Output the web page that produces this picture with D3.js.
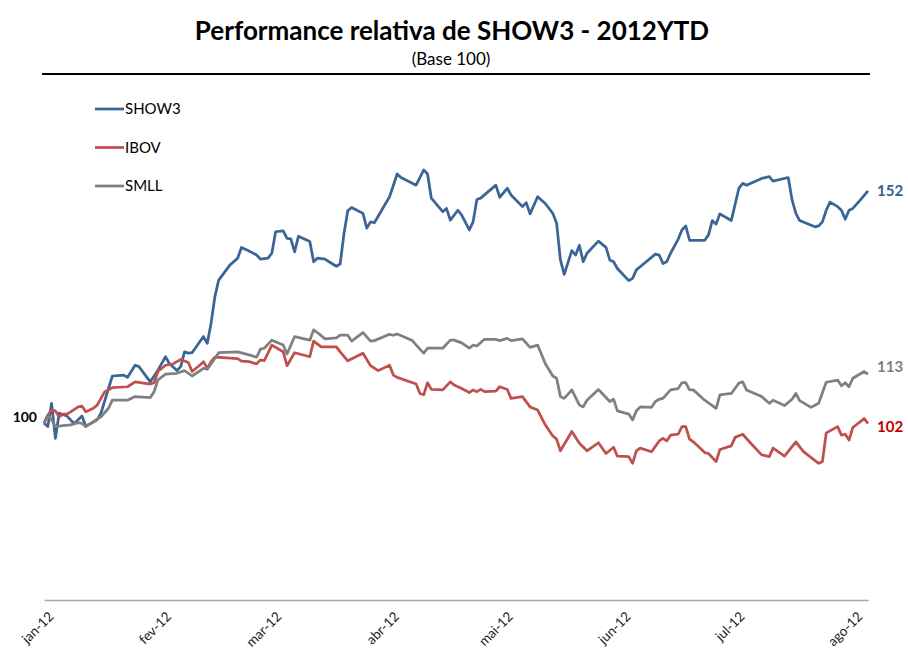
<!DOCTYPE html>
<html>
<head>
<meta charset="utf-8">
<script src="https://cdn.jsdelivr.net/npm/d3@7"></script>
<style>
body { margin: 0; background: #fff; }
text { font-family: Lato, "Open Sans", sans-serif; }
</style>
</head>
<body>
<svg id="chart" width="908" height="653"></svg>
<script>
const titleText = "Performance relativa de SHOW3 - 2012YTD";
const subtitleText = "(Base 100)";
const monthNames = ["jan", "fev", "mar", "abr", "mai", "jun", "jul", "ago"];
const seriesNames = ["SHOW3", "IBOV", "SMLL"];
const endLabels = ["152", "102", "113"];
const startLabel = "100";

const showDates = ["2011-12-30","2011-12-31","2012-01-01","2012-01-02","2012-01-03","2012-01-05","2012-01-06","2012-01-07","2012-01-09","2012-01-10","2012-01-13","2012-01-14","2012-01-17","2012-01-20","2012-01-21","2012-01-23","2012-01-24","2012-01-27","2012-01-29","2012-01-31","2012-02-01","2012-02-03","2012-02-04","2012-02-05","2012-02-06","2012-02-07","2012-02-10","2012-02-11","2012-02-12","2012-02-13","2012-02-14","2012-02-17","2012-02-19","2012-02-20","2012-02-22","2012-02-24","2012-02-25","2012-02-27","2012-02-28","2012-02-29","2012-03-02","2012-03-03","2012-03-04","2012-03-05","2012-03-06","2012-03-09","2012-03-10","2012-03-11","2012-03-13","2012-03-15","2012-03-16","2012-03-17","2012-03-18","2012-03-19","2012-03-20","2012-03-23","2012-03-24","2012-03-25","2012-03-26","2012-03-30","2012-04-01","2012-04-02","2012-04-06","2012-04-08","2012-04-09","2012-04-10","2012-04-13","2012-04-14","2012-04-15","2012-04-17","2012-04-18","2012-04-20","2012-04-21","2012-04-22","2012-04-23","2012-04-27","2012-04-28","2012-04-30","2012-05-01","2012-05-04","2012-05-05","2012-05-06","2012-05-08","2012-05-10","2012-05-12","2012-05-13","2012-05-14","2012-05-15","2012-05-17","2012-05-18","2012-05-19","2012-05-20","2012-05-21","2012-05-24","2012-05-26","2012-05-27","2012-05-28","2012-05-29","2012-06-01","2012-06-02","2012-06-03","2012-06-04","2012-06-08","2012-06-09","2012-06-10","2012-06-11","2012-06-12","2012-06-14","2012-06-15","2012-06-16","2012-06-17","2012-06-21","2012-06-22","2012-06-23","2012-06-24","2012-06-25","2012-06-28","2012-06-30","2012-07-01","2012-07-02","2012-07-06","2012-07-08","2012-07-09","2012-07-13","2012-07-14","2012-07-15","2012-07-16","2012-07-20","2012-07-21","2012-07-22","2012-07-23","2012-07-24","2012-07-26","2012-07-27","2012-07-28","2012-07-29","2012-07-30","2012-08-01","2012-08-03"];
const showValues = [100.0,99.2,104.4,96.6,102.2,101.6,100.7,99.9,101.6,99.3,100.7,102.2,110.5,110.7,110.2,112.9,112.6,109.2,111.8,114.8,113.3,111.7,112.6,115.9,115.6,115.7,119.3,117.8,122.3,128.2,131.9,135.3,136.8,139.2,138.4,137.5,136.6,136.8,137.9,142.7,142.9,141.2,141.1,138.2,141.7,140.5,136.0,136.8,136.6,135.5,135.0,135.5,142.3,147.4,148.1,146.8,143.5,144.9,144.7,150.5,155.6,154.8,153.1,156.5,155.6,150.2,147.2,147.9,145.3,147.5,146.4,143.1,144.9,149.9,150.2,153.1,150.4,152.4,150.9,148.3,149.2,146.7,150.5,149.0,146.8,144.6,136.4,133.2,138.5,137.5,139.7,136.0,137.9,140.6,139.2,136.4,136.0,134.5,131.8,132.3,134.2,134.9,137.7,137.5,135.6,136.0,137.9,141.0,143.1,144.0,140.8,140.8,142.0,145.2,144.4,146.7,145.2,152.4,153.5,153.1,154.6,155.0,154.0,154.8,149.8,146.8,145.2,143.8,144.0,144.9,147.5,149.3,148.3,147.5,145.5,147.5,147.9,149.8,151.8];

const ibovDates = ["2011-12-30","2011-12-31","2012-01-01","2012-01-02","2012-01-03","2012-01-04","2012-01-05","2012-01-06","2012-01-08","2012-01-09","2012-01-10","2012-01-12","2012-01-13","2012-01-15","2012-01-16","2012-01-17","2012-01-21","2012-01-23","2012-01-27","2012-01-28","2012-01-29","2012-01-31","2012-02-02","2012-02-03","2012-02-04","2012-02-06","2012-02-07","2012-02-09","2012-02-10","2012-02-11","2012-02-12","2012-02-13","2012-02-19","2012-02-20","2012-02-22","2012-02-24","2012-02-25","2012-02-26","2012-02-28","2012-03-02","2012-03-03","2012-03-05","2012-03-09","2012-03-10","2012-03-12","2012-03-16","2012-03-17","2012-03-19","2012-03-23","2012-03-25","2012-03-27","2012-03-30","2012-03-31","2012-04-01","2012-04-06","2012-04-07","2012-04-08","2012-04-09","2012-04-10","2012-04-13","2012-04-15","2012-04-16","2012-04-18","2012-04-20","2012-04-21","2012-04-22","2012-04-23","2012-04-24","2012-04-27","2012-04-28","2012-04-30","2012-05-01","2012-05-04","2012-05-06","2012-05-08","2012-05-10","2012-05-12","2012-05-13","2012-05-14","2012-05-17","2012-05-19","2012-05-21","2012-05-24","2012-05-26","2012-05-28","2012-05-29","2012-06-01","2012-06-02","2012-06-03","2012-06-04","2012-06-07","2012-06-09","2012-06-10","2012-06-11","2012-06-12","2012-06-14","2012-06-15","2012-06-16","2012-06-17","2012-06-18","2012-06-21","2012-06-22","2012-06-24","2012-06-25","2012-06-28","2012-06-29","2012-07-01","2012-07-03","2012-07-06","2012-07-08","2012-07-09","2012-07-12","2012-07-15","2012-07-17","2012-07-21","2012-07-22","2012-07-23","2012-07-26","2012-07-27","2012-07-28","2012-07-29","2012-07-30","2012-08-02","2012-08-03"];
const ibovValues = [100.0,101.8,102.9,102.7,101.4,102.0,102.0,102.5,103.6,103.8,102.5,103.3,104.0,107.0,107.4,107.9,108.1,109.2,108.7,109.0,111.5,112.9,113.2,113.7,114.2,113.5,111.5,112.9,113.7,112.2,113.7,114.7,114.4,113.8,113.7,113.2,114.1,113.9,117.4,115.9,112.8,115.7,114.8,118.3,117.0,117.0,115.9,113.9,115.6,112.8,111.7,112.9,110.7,110.2,108.7,106.6,106.3,109.0,107.5,107.4,109.2,108.5,107.7,106.8,107.4,107.0,107.5,107.0,107.1,108.1,107.5,105.5,105.9,103.6,102.9,99.6,97.1,96.4,93.8,98.1,95.5,93.8,95.6,93.2,94.6,92.6,92.5,91.0,93.8,94.4,93.6,96.0,96.6,96.0,97.3,97.5,99.2,99.2,96.4,95.8,93.4,93.2,91.4,94.1,94.9,96.8,97.5,95.6,92.9,92.5,94.4,92.6,95.8,93.6,91.0,91.4,97.8,99.2,97.3,97.5,96.2,99.0,101.0,99.9];

const smllDates = ["2011-12-30","2011-12-31","2012-01-01","2012-01-02","2012-01-04","2012-01-06","2012-01-08","2012-01-09","2012-01-10","2012-01-12","2012-01-14","2012-01-16","2012-01-17","2012-01-21","2012-01-23","2012-01-27","2012-01-28","2012-01-29","2012-01-31","2012-02-03","2012-02-05","2012-02-07","2012-02-10","2012-02-11","2012-02-13","2012-02-14","2012-02-19","2012-02-22","2012-02-24","2012-02-25","2012-02-26","2012-02-28","2012-03-02","2012-03-03","2012-03-05","2012-03-09","2012-03-10","2012-03-11","2012-03-13","2012-03-16","2012-03-17","2012-03-19","2012-03-20","2012-03-23","2012-03-25","2012-03-26","2012-03-30","2012-03-31","2012-04-01","2012-04-05","2012-04-07","2012-04-08","2012-04-09","2012-04-13","2012-04-15","2012-04-16","2012-04-18","2012-04-20","2012-04-21","2012-04-22","2012-04-24","2012-04-27","2012-04-28","2012-04-30","2012-05-01","2012-05-04","2012-05-06","2012-05-08","2012-05-10","2012-05-12","2012-05-13","2012-05-14","2012-05-15","2012-05-17","2012-05-19","2012-05-20","2012-05-21","2012-05-24","2012-05-27","2012-05-28","2012-05-29","2012-06-01","2012-06-02","2012-06-03","2012-06-04","2012-06-07","2012-06-08","2012-06-09","2012-06-10","2012-06-12","2012-06-14","2012-06-15","2012-06-16","2012-06-17","2012-06-18","2012-06-21","2012-06-24","2012-06-25","2012-06-28","2012-06-30","2012-07-01","2012-07-02","2012-07-06","2012-07-08","2012-07-09","2012-07-12","2012-07-14","2012-07-15","2012-07-16","2012-07-19","2012-07-21","2012-07-23","2012-07-26","2012-07-27","2012-07-28","2012-07-29","2012-07-30","2012-08-02","2012-08-03"];
const smllValues = [100.0,101.6,100.7,99.2,99.4,99.6,100.1,99.9,99.2,100.3,101.4,103.3,105.1,105.1,105.9,105.7,107.0,109.6,110.9,111.1,111.7,110.5,112.2,112.0,114.4,115.7,115.9,115.2,114.7,116.5,116.7,118.5,117.4,115.4,119.3,118.5,120.8,120.2,118.8,119.0,119.6,119.6,118.3,120.2,118.3,118.4,119.8,119.6,119.9,118.4,116.5,115.6,116.7,116.7,118.5,118.5,117.9,116.7,117.4,117.2,118.7,118.7,118.4,118.9,118.4,118.8,116.9,117.4,113.3,110.5,110.0,105.9,105.5,107.4,104.0,103.6,105.1,107.5,104.8,105.3,102.7,102.0,100.7,102.7,103.6,103.5,104.8,105.3,105.5,107.4,107.7,109.0,109.0,107.4,107.4,105.1,103.3,106.3,106.6,108.9,109.2,107.4,105.9,104.4,105.1,103.9,105.3,106.6,105.0,103.5,104.4,109.1,109.6,108.3,109.0,108.1,110.0,111.5,110.9];

const parseDate = d3.timeParse("%Y-%m-%d");

const colors = ["#3b6497", "#c0504d", "#808080"];
const labelColors = ["#376092", "#c00000", "#7f7f7f"];
const labelOffsets = [0, 3, -7];

const series = [
    { dates: showDates, values: showValues },
    { dates: ibovDates, values: ibovValues },
    { dates: smllDates, values: smllValues }
].map((s, i) => ({
    name: seriesNames[i],
    color: colors[i],
    points: s.dates.map((d, j) => ({ date: parseDate(d), value: s.values[j] }))
}));

const svg = d3.select("#chart");

// titulo
svg.append("text")
    .attr("x", 452).attr("y", 40)
    .attr("text-anchor", "middle")
    .style("font-size", "26px").style("font-weight", "bold")
    .text(titleText);

svg.append("text")
    .attr("x", 451).attr("y", 65)
    .attr("text-anchor", "middle")
    .style("font-size", "17px")
    .text(subtitleText);

svg.append("line")
    .attr("x1", 42).attr("x2", 870)
    .attr("y1", 74).attr("y2", 74)
    .attr("stroke", "#000").attr("stroke-width", 2);

const x = d3.scaleTime()
    .domain([parseDate("2011-12-30"), parseDate("2012-08-03")])
    .range([44, 868]);

const y = d3.scaleLinear()
    .domain([60.5, 160.5])
    .range([600, 152]);

const monthTicks = d3.timeMonth.range(new Date(2012, 0, 1), new Date(2012, 7, 2));

const xAxis = d3.axisBottom(x)
    .tickValues(monthTicks)
    .tickSize(0)
    .tickSizeOuter(0)
    .tickFormat(d => `${monthNames[d.getMonth()]}-${String(d.getFullYear()).slice(2)}`);

const gx = svg.append("g")
    .attr("class", "x axis")
    .attr("transform", `translate(0, ${y.range()[0]})`)
    .call(xAxis);

gx.select(".domain").attr("stroke", "#a6a6a6").attr("stroke-width", 1.5);
gx.selectAll(".tick text")
    .attr("y", 0).attr("dy", "0.35em")
    .attr("text-anchor", "end")
    .attr("transform", "translate(-1, 14) rotate(-45)")
    .style("font-family", "Lato, sans-serif")
    .style("font-size", "13.5px")
    .attr("fill", "#222");

const line = d3.line().x(d => x(d.date)).y(d => y(d.value));

svg.selectAll("path.serie")
    .data(series)
    .enter().append("path")
    .attr("class", "serie")
    .attr("d", d => line(d.points))
    .attr("fill", "none")
    .attr("stroke", d => d.color)
    .attr("stroke-width", 2.75)
    .attr("stroke-linejoin", "round");

// legenda
const legend = svg.append("g").attr("transform", "translate(95, 109)");
series.forEach((s, i) => {
    let g = legend.append("g").attr("transform", `translate(0, ${i * 38.5})`);
    g.append("line")
        .attr("x1", 0).attr("x2", 29)
        .attr("stroke", s.color).attr("stroke-width", 2.75);
    g.append("text")
        .attr("x", 30).attr("dy", "0.35em")
        .style("font-size", "15px")
        .text(s.name);
});

// rotulos
series.forEach((s, i) => {
    let last = s.points[s.points.length - 1];
    svg.append("text")
        .attr("x", x(last.date) + 9)
        .attr("y", y(last.value) + labelOffsets[i])
        .attr("dy", "0.35em")
        .attr("fill", labelColors[i])
        .style("font-size", "15px").style("font-weight", "bold")
        .text(endLabels[i]);
});

const first = series[0].points[0];
svg.append("text")
    .attr("x", x(first.date) - 7)
    .attr("y", y(first.value) - 6)
    .attr("dy", "0.35em")
    .attr("text-anchor", "end")
    .style("font-size", "14px").style("font-weight", "bold")
    .text(startLabel);
</script>
</body>
</html>
